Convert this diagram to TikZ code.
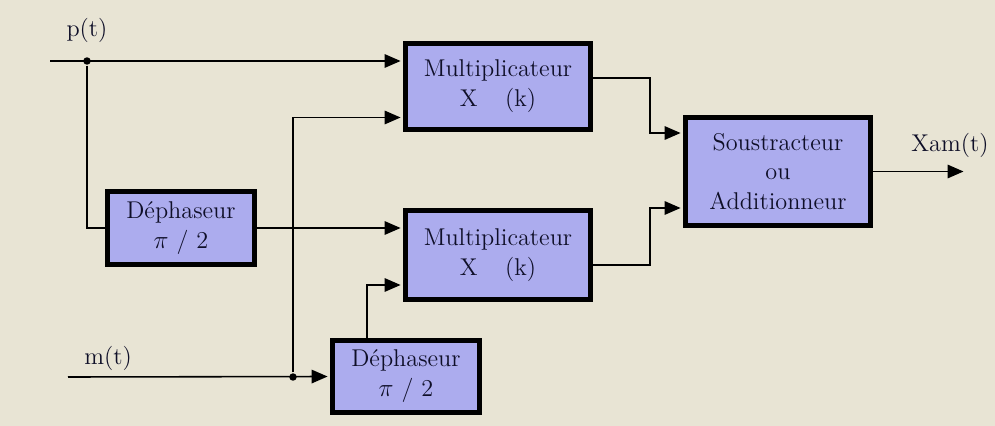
\documentclass[tikz,border=0pt]{standalone}
\usepackage{fontspec}
\usepackage{amsmath}
\usepackage{xcolor}
\usetikzlibrary{arrows.meta}

\definecolor{papier}{RGB}{232,228,212}
\definecolor{lavande}{RGB}{172,172,238}
\definecolor{encre}{RGB}{15,15,40}

\begin{document}
\begin{tikzpicture}[x=0.02cm,y=-0.02cm,
    bloc/.style={draw,line width=2.8pt,fill=lavande,align=center,text=encre,
      font=\fontsize{13.8}{17}\selectfont,inner sep=0pt},
    etiq/.style={text=encre,font=\fontsize{13.8}{17}\selectfont},
    fleche/.style={-{Triangle[length=0.32cm,width=0.27cm]},shorten >=1.4pt},
    line width=0.9pt]
            \fill[papier] (0,0) rectangle (995,426);
            \useasboundingbox (0,0) rectangle (995,426);
            % blocs
            \node (m1) at (498,86.5) [bloc,minimum width=3.7cm,minimum height=1.72cm] {Multiplicateur\\X\hspace{0.55cm}(k)};
            \node (m2) at (498,255) [bloc,minimum width=3.7cm,minimum height=1.78cm] {Multiplicateur\\X\hspace{0.55cm}(k)};
            \node (s) at (778,171.5) [bloc,minimum width=3.7cm,minimum height=2.16cm] {Soustracteur\\ou\\Additionneur};
            \node (d1) at (181,228) [bloc,minimum width=2.94cm,minimum height=1.46cm] {Déphaseur\\$\pi$ / 2};
            \node (d2) at (406,376.5) [bloc,minimum width=2.94cm,minimum height=1.44cm] {Déphaseur\\$\pi$ / 2};
            % entrees, sortie
            \coordinate (pin) at (50,61);
            \coordinate (min) at (68,377);
            \coordinate (sortie) at (966,171.5);
            \node (jp) at (87,61) [circle,fill,inner sep=1.5pt] {};
            \node (jm) at (293,377) [circle,fill,inner sep=1.5pt] {};
            \node (lp) at (87,30) [etiq] {p(t)};
            \node (lm) at (108,358) [etiq] {m(t)};
            \node (lx) at (950,145) [etiq] {Xam(t)};
            % liaisons
            \draw[fleche] (pin) -- (pin -| m1.west);
            \draw (jp) |- (d1.west);
            \draw[fleche] (d1.east) -- (d1.east -| m2.west);
            \draw[fleche] (min) -- (d2.west);
            \draw[fleche] (jm) |- ([yshift=-0.62cm]m1.west);
            \draw[fleche] ([xshift=-0.78cm]d2.north) |- ([yshift=-0.6cm]m2.west);
            \draw[fleche] ([yshift=0.17cm]m1.east) -- ++(57,0) |- ([yshift=0.77cm]s.west);
            \draw[fleche] ([yshift=-0.2cm]m2.east) -- ++(57,0) |- ([yshift=-0.73cm]s.west);
            \draw[fleche] (s.east) -- (sortie);
        \end{tikzpicture}
\end{document}
